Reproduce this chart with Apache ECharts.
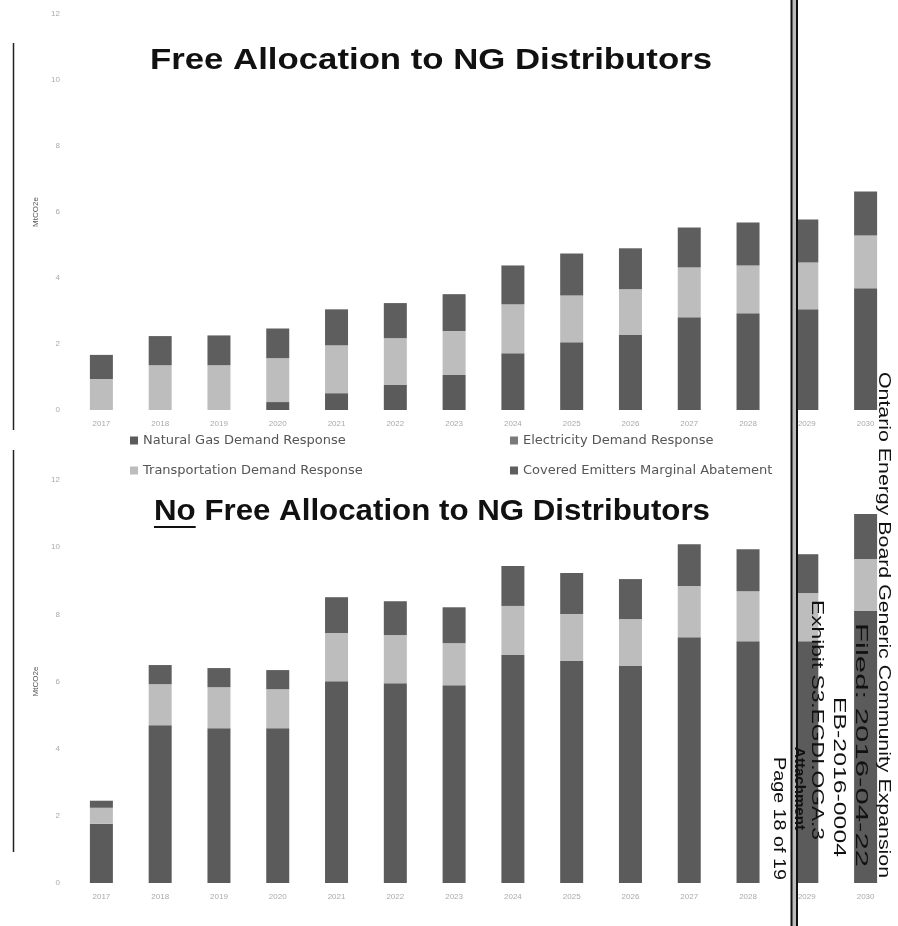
<!DOCTYPE html>
<html>
<head>
<meta charset="utf-8">
<script src="https://cdn.jsdelivr.net/npm/echarts@6/dist/echarts.min.js"></script>
<style>
  html, body { margin: 0; padding: 0; background: #fff; }
  #chart { width: 898px; height: 926px; }
</style>
</head>
<body>
<div id="chart"></div>
<script>
// Years on the category axis
const years = ['2017','2018','2019','2020','2021','2022','2023','2024','2025','2026','2027','2028','2029','2030'];

// Free allocation scenario (MtCO2e)
const freeNgDemand      = [0, 0, 0, 0.24, 0.51, 0.76, 1.06, 1.72, 2.05, 2.27, 2.81, 2.93, 3.05, 3.69];
const freeElecDemand    = [0, 0, 0, 0, 0, 0, 0, 0, 0, 0, 0, 0, 0, 0];
const freeTransport     = [0.94, 1.36, 1.36, 1.33, 1.45, 1.42, 1.33, 1.48, 1.42, 1.39, 1.51, 1.45, 1.42, 1.60];
const freeCovered       = [0.73, 0.88, 0.90, 0.90, 1.09, 1.06, 1.12, 1.18, 1.27, 1.24, 1.21, 1.30, 1.30, 1.33];

// No free allocation scenario (MtCO2e)
const noFreeNgDemand    = [1.76, 4.70, 4.61, 4.61, 6.01, 5.95, 5.89, 6.79, 6.61, 6.46, 7.32, 7.20, 7.20, 8.10];
const noFreeElecDemand  = [0, 0, 0, 0, 0, 0, 0, 0, 0, 0, 0, 0, 0, 0];
const noFreeTransport   = [0.48, 1.22, 1.22, 1.16, 1.43, 1.43, 1.25, 1.46, 1.40, 1.40, 1.52, 1.49, 1.43, 1.55];
const noFreeCovered     = [0.21, 0.57, 0.57, 0.57, 1.07, 1.01, 1.07, 1.19, 1.22, 1.19, 1.25, 1.25, 1.16, 1.34];

const seriesNames = ['Natural Gas Demand Response', 'Electricity Demand Response',
                     'Transportation Demand Response', 'Covered Emitters Marginal Abatement'];
const seriesColors = ['#5b5b5b', '#7a7a7a', '#bdbdbd', '#5e5e5e'];

const yTicks = { min: 0, max: 12, interval: 2 };

const FONT = 'Liberation Sans, Arial, sans-serif';

function makeSeries(idx, data) {
  return data.map((vals, i) => ({
    name: seriesNames[i],
    type: 'bar',
    stack: 'total' + idx,
    xAxisIndex: idx,
    yAxisIndex: idx,
    barWidth: 23,
    itemStyle: { color: seriesColors[i] },
    data: vals
  }));
}

function xAxis(gridIndex) {
  return {
    type: 'category', gridIndex, data: years,
    axisLine: { show: false }, axisTick: { show: false },
    axisLabel: { color: '#aaa', fontSize: 8, margin: 10, fontFamily: FONT }
  };
}
function yAxis(gridIndex) {
  return {
    type: 'value', gridIndex, min: yTicks.min, max: yTicks.max, interval: yTicks.interval,
    name: 'MtCO2e', nameLocation: 'middle', nameGap: 28,
    nameTextStyle: { color: '#555', fontSize: 8, fontFamily: FONT },
    axisLine: { show: false }, axisTick: { show: false }, splitLine: { show: false },
    axisLabel: { color: '#aaa', fontSize: 8, margin: 12, fontFamily: FONT }
  };
}

function legendAt(name, left, top) {
  return {
    data: [name], left, top, itemWidth: 8, itemHeight: 8, icon: 'rect', itemGap: 6,
    textStyle: { color: '#555', fontSize: 13, fontFamily: 'DejaVu Sans, sans-serif' }
  };
}

// Text measuring helper, used to fit text to a given run length
const measureCtx = document.createElement('canvas').getContext('2d');
function textWidth(text, font) {
  measureCtx.font = font;
  return measureCtx.measureText(text).width;
}

// Chart titles, fitted to the printed width
const TITLE_FONT = 'bold 30px ' + FONT;
const titles = [
  { text: 'Free Allocation to NG Distributors', cx: 431, cy: 61, width: 562 },
  { text: 'No Free Allocation to NG Distributors', cx: 432, cy: 512, width: 556 }
];

// Rotated filing stamp text along the right edge (reads top to bottom)
const stamp = [
  { text: 'Ontario Energy Board Generic Community Expansion', x: 883, y0: 372, y1: 878, font: '16px ' + FONT },
  { text: 'Filed: 2016-04-22', x: 860, y0: 623, y1: 867, font: '16px ' + FONT },
  { text: 'EB-2016-0004', x: 838, y0: 697, y1: 857, font: '16px ' + FONT },
  { text: 'Exhibit S3.EGDI.OGA.3', x: 816, y0: 600, y1: 840, font: '16px ' + FONT },
  { text: 'Attachment', x: 799, y0: 747, y1: 830, font: 'bold 14px ' + FONT },
  { text: 'Page 18 of 19', x: 778, y0: 757, y1: 880, font: '16px ' + FONT }
];

const graphics = [
  // page borders
  { type: 'line', shape: { x1: 13.5, y1: 43, x2: 13.5, y2: 430 }, style: { stroke: '#222', lineWidth: 1.5 } },
  { type: 'line', shape: { x1: 13.5, y1: 450, x2: 13.5, y2: 852 }, style: { stroke: '#222', lineWidth: 1.5 } },
  { type: 'rect', shape: { x: 791, y: 0, width: 7, height: 926 }, style: { fill: '#bbb' }, z: 99 },
  { type: 'line', shape: { x1: 791.5, y1: 0, x2: 791.5, y2: 926 }, style: { stroke: '#111', lineWidth: 2 }, z: 100 },
  { type: 'line', shape: { x1: 797, y1: 0, x2: 797, y2: 926 }, style: { stroke: '#111', lineWidth: 2 }, z: 100 }
];

titles.forEach(t => {
  const w = textWidth(t.text, TITLE_FONT);
  graphics.push({
    type: 'text', x: t.cx, y: t.cy, scaleX: t.width / w, z: 50,
    style: { text: t.text, font: TITLE_FONT, fill: '#111', textAlign: 'center', textVerticalAlign: 'middle' }
  });
});

// underline beneath the word "No"
{
  const t = titles[1];
  const scale = t.width / textWidth(t.text, TITLE_FONT);
  const x0 = t.cx - t.width / 2;
  const noW = textWidth('No', TITLE_FONT) * scale;
  graphics.push({ type: 'line', shape: { x1: x0, y1: t.cy + 15, x2: x0 + noW, y2: t.cy + 15 },
    style: { stroke: '#111', lineWidth: 2 } });
}

stamp.forEach(s => {
  const w = textWidth(s.text, s.font);
  graphics.push({
    type: 'text', x: s.x, y: s.y0, rotation: -Math.PI / 2, scaleX: (s.y1 - s.y0) / w, z: 100,
    style: { text: s.text, font: s.font, fill: '#111', textAlign: 'left', textVerticalAlign: 'middle' }
  });
});

const chart = echarts.init(document.getElementById('chart'));
chart.setOption({
  animation: false,
  backgroundColor: '#fff',
  grid: [
    { left: 72, right: 3, top: 14, height: 396 },
    { left: 72, right: 3, top: 480, height: 403 }
  ],
  xAxis: [xAxis(0), xAxis(1)],
  yAxis: [yAxis(0), yAxis(1)],
  legend: [
    legendAt(seriesNames[0], 125, 429),
    legendAt(seriesNames[1], 505, 429),
    legendAt(seriesNames[2], 125, 459),
    legendAt(seriesNames[3], 505, 459)
  ],
  graphic: graphics,
  series: [].concat(
    makeSeries(0, [freeNgDemand, freeElecDemand, freeTransport, freeCovered]),
    makeSeries(1, [noFreeNgDemand, noFreeElecDemand, noFreeTransport, noFreeCovered])
  )
});
</script>
</body>
</html>
